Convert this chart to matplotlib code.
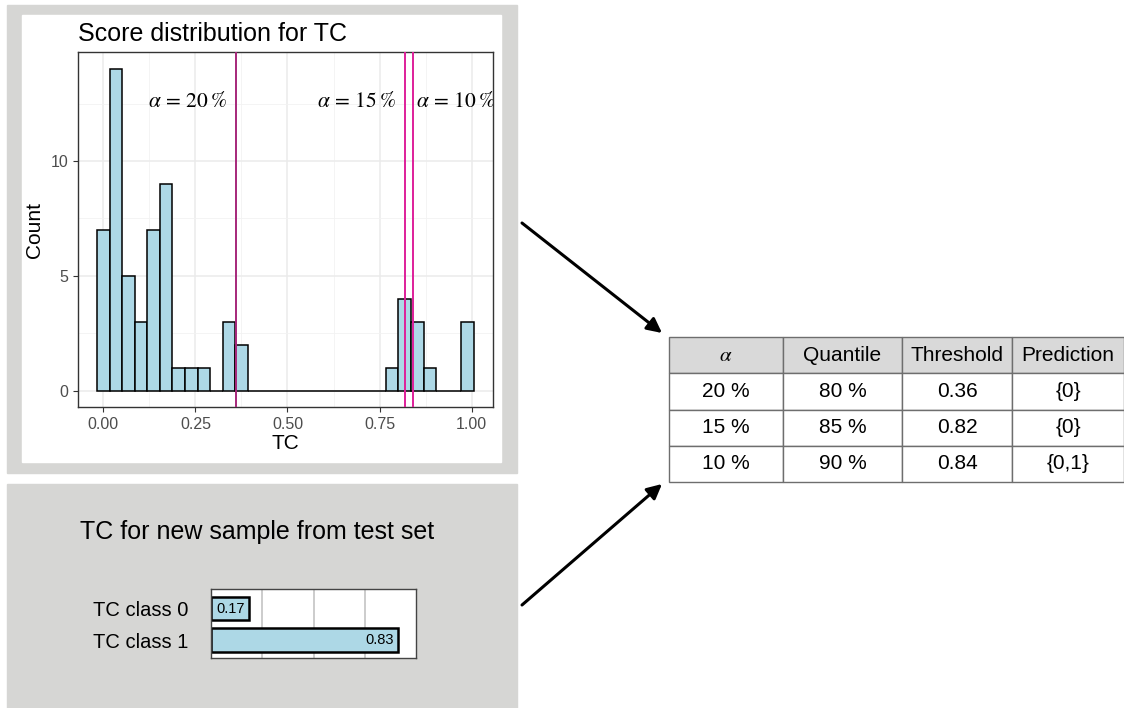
import matplotlib.pyplot as plt
import numpy as np
from matplotlib.patches import Rectangle

plt.rcParams['font.family'] = ['Liberation Sans', 'DejaVu Sans']
plt.rcParams['mathtext.fontset'] = 'stix'

# histogram of TC scores on the calibration set (30 bins)
counts = [7, 14, 5, 3, 7, 9, 1, 1, 1, 0, 3, 2,
          0, 0, 0, 0, 0, 0, 0, 0, 0, 0, 0,
          1, 4, 3, 1, 0, 0, 3]
score_max = 0.989

# conformal thresholds per alpha level
alphas = [20, 15, 10]
quantiles = [80, 85, 90]
thresholds = [0.36, 0.82, 0.84]
predictions = ['{0}', '{0}', '{0,1}']
line_colors = ['#A6277A', '#DE1F9A', '#DE1F9A']

# scores for the new test sample
classes = ['TC class 0', 'TC class 1']
new_scores = [0.17, 0.83]

W, H = 1124, 708
fig = plt.figure(figsize=(W / 100, H / 100), dpi=100)


def px_axes(x0, y0, x1, y1):
    # axes placed by pixel box, origin top-left
    return fig.add_axes([x0 / W, 1 - y1 / H, (x1 - x0) / W, (y1 - y0) / H])


# background panels and arrows
bg = px_axes(0, 0, W, H)
bg.set_xlim(0, W)
bg.set_ylim(H, 0)
bg.axis('off')
bg.add_patch(Rectangle((7, 5), 510, 468, color='#D6D6D4'))
bg.add_patch(Rectangle((22, 15), 479, 447, color='white'))
bg.add_patch(Rectangle((7, 484), 510, 230, color='#D6D6D4'))
arrow = dict(arrowstyle='-|>', color='black', lw=2.2, mutation_scale=22, shrinkA=0, shrinkB=0)
bg.annotate('', xy=(662, 333), xytext=(522, 223), arrowprops=arrow)
bg.annotate('', xy=(662, 484), xytext=(522, 605), arrowprops=arrow)
bg.text(80, 532, 'TC for new sample from test set', fontsize=18, va='center', ha='left')

# score distribution
ax = px_axes(78, 52, 493, 407)
n_bins = len(counts)
bin_w = score_max / (n_bins - 1)
centers = np.arange(n_bins) * bin_w
ax.bar(centers, counts, width=bin_w, color='#ADD8E6', edgecolor='black', lw=1.1, zorder=2)
for t, c in zip(thresholds, line_colors):
    ax.axvline(t, color=c, lw=1.4, zorder=3)
label_y = 12.6
fmt = r'$\alpha\, =\, %d\,\%%$'
ax.text(thresholds[0] - 0.025, label_y, fmt % alphas[0], ha='right', va='center', fontsize=15.5)
ax.text(thresholds[1] - 0.025, label_y, fmt % alphas[1], ha='right', va='center', fontsize=15.5)
ax.text(thresholds[2] + 0.008, label_y, fmt % alphas[2], ha='left', va='center', fontsize=15.5, clip_on=True)
ax.set_xlim(-0.0687, 1.058)
ax.set_ylim(-0.7, 14.74)
ax.set_xticks([0, 0.25, 0.5, 0.75, 1.0])
ax.set_xticklabels(['0.00', '0.25', '0.50', '0.75', '1.00'])
ax.set_yticks([0, 5, 10])
ax.set_xticks([0.125, 0.375, 0.625, 0.875], minor=True)
ax.set_yticks([2.5, 7.5, 12.5], minor=True)
ax.set_axisbelow(True)
ax.grid(which='major', color='#EBEBEB', lw=1.1)
ax.grid(which='minor', color='#F2F2F2', lw=0.6)
ax.tick_params(which='major', labelsize=11.5, labelcolor='#4D4D4D', color='#333333', length=3.5, width=0.8)
ax.tick_params(which='minor', length=0)
for s in ax.spines.values():
    s.set_color('#333333')
    s.set_linewidth(1.0)
ax.set_title('Score distribution for TC', loc='left', fontsize=18, pad=8)
ax.set_xlabel('TC', fontsize=15, labelpad=2)
ax.set_ylabel('Count', fontsize=15, labelpad=5)

# new sample scores
bx = px_axes(211, 589, 416, 658)
ypos = np.arange(len(classes))
bx.barh(ypos, new_scores, height=0.75, color='#ADD8E6', edgecolor='black', lw=1.8, zorder=2)
for y, v in zip(ypos, new_scores):
    bx.annotate(f'{v:.2f}', xy=(v, y), xytext=(-3, 0), textcoords='offset points',
                ha='right', va='center', fontsize=10.5, zorder=3)
x_max = 0.91
bx.set_xlim(0, x_max)
bx.set_ylim(1.57, -0.62)
bx.set_yticks(ypos)
bx.set_yticklabels(classes, fontsize=14.5)
bx.set_xticks([x_max * 0.25, x_max * 0.5, x_max * 0.75])
bx.set_xticklabels([])
bx.tick_params(length=0, pad=16)
bx.set_axisbelow(True)
bx.grid(axis='x', color='#C8C8C8', lw=1.3)
for s in bx.spines.values():
    s.set_color('#444444')
    s.set_linewidth(1.0)

# threshold table
tx = px_axes(669, 337, 1124, 482)
tx.axis('off')
rows = [[f'{a} %', f'{q} %', f'{t:.2f}', p] for a, q, t, p in zip(alphas, quantiles, thresholds, predictions)]
col_w = np.array([114, 119, 110, 112]) / 455
tbl = tx.table(cellText=rows, colLabels=[r'$\alpha$', 'Quantile', 'Threshold', 'Prediction'],
               cellLoc='center', colWidths=list(col_w), bbox=[0, 0, 1, 1])
tbl.auto_set_font_size(False)
tbl.set_fontsize(15)
for (r, c), cell in tbl.get_celld().items():
    cell.set_edgecolor('#6E6E6E')
    cell.set_linewidth(1.0)
    if r == 0:
        cell.set_facecolor('#D9D9D9')

fig.savefig('out.png', dpi=100)
